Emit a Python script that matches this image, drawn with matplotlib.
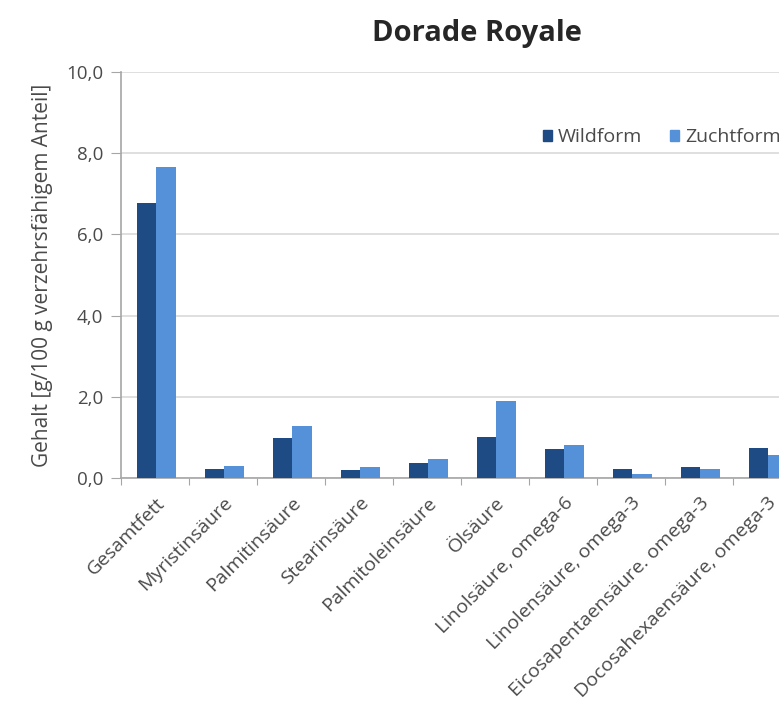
import matplotlib

matplotlib.use("Agg")
import matplotlib.pyplot as plt
import numpy as np
from matplotlib.patches import Patch

categories = [
    "Gesamtfett",
    "Myristinsäure",
    "Palmitinsäure",
    "Stearinsäure",
    "Palmitoleinsäure",
    "Ölsäure",
    "Linolsäure, omega-6",
    "Linolensäure, omega-3",
    "Eicosapentaensäure. omega-3",
    "Docosahexaensäure, omega-3",
]
wildform = [6.77, 0.22, 0.99, 0.19, 0.37, 1.01, 0.72, 0.22, 0.27, 0.75]
zuchtform = [7.66, 0.29, 1.28, 0.27, 0.46, 1.89, 0.81, 0.10, 0.21, 0.57]
yticks = [0, 2, 4, 6, 8, 10]
ytick_labels = ["0,0", "2,0", "4,0", "6,0", "8,0", "10,0"]

DARK = "#1f4b84"
LIGHT = "#5591d8"
GRID = "#d9d9d9"
TEXT = "#4a4a4a"

plt.rcParams["font.family"] = ["Open Sans", "DejaVu Sans"]

W, H = 779, 712
fig = plt.figure(figsize=(W / 100, H / 100), dpi=100)
# the plot area runs on past the right edge, as in the reference
ax = fig.add_axes([121 / W, (H - 478) / H, 680 / W, 406 / H])

x = np.arange(len(categories))
bw = 0.285
ax.bar(x - bw / 2 + 0.02, wildform, bw, color=DARK, label="Wildform", zorder=3)
ax.bar(x + bw / 2 + 0.02, zuchtform, bw, color=LIGHT, label="Zuchtform", zorder=3)

ax.set_xlim(-0.5, len(categories) - 0.5)
ax.set_ylim(0, 10)
ax.set_yticks(yticks)
ax.set_yticklabels(ytick_labels, fontsize=13.5, color=TEXT)
ax.yaxis.grid(True, color=GRID, linewidth=1.2, zorder=0)

# boundaries get tick marks, centres get the labels
ax.set_xticks(np.arange(len(categories) + 1) - 0.5)
ax.set_xticklabels([])
ax.set_xticks(x + 0.1, minor=True)
ax.set_xticklabels(categories, minor=True, rotation=45, ha="right", va="center",
                   rotation_mode="anchor", fontsize=14, color=TEXT)
ax.tick_params(axis="x", which="major", length=5, color="#a6a6a6", direction="out")
ax.tick_params(axis="x", which="minor", length=0, pad=16)
ax.tick_params(axis="y", length=7, color="#a6a6a6", pad=6)

for side in ("top", "right"):
    ax.spines[side].set_visible(False)
for side in ("left", "bottom"):
    ax.spines[side].set_color("#a6a6a6")
    ax.spines[side].set_linewidth(1.2)

ax.set_ylabel("Gehalt [g/100 g verzehrsfähigem Anteil]", fontsize=15, color=TEXT)
ax.yaxis.set_label_coords(-0.1, 0.499)
fig.text(477 / W, 1 - 34 / H, "Dorade Royale", ha="center", va="center",
         fontsize=21, fontweight="bold", color="#262626")

handles = [Patch(color=DARK), Patch(color=LIGHT)]
fig.legend(handles, ["Wildform", "Zuchtform"], loc="center left",
           bbox_to_anchor=(525 / W, 1 - 137 / H), ncol=2, frameon=False,
           handlelength=0.5, handleheight=0.5, handletextpad=0.3,
           columnspacing=1.4, fontsize=14, labelcolor=TEXT)

fig.savefig("out.png", dpi=100)
